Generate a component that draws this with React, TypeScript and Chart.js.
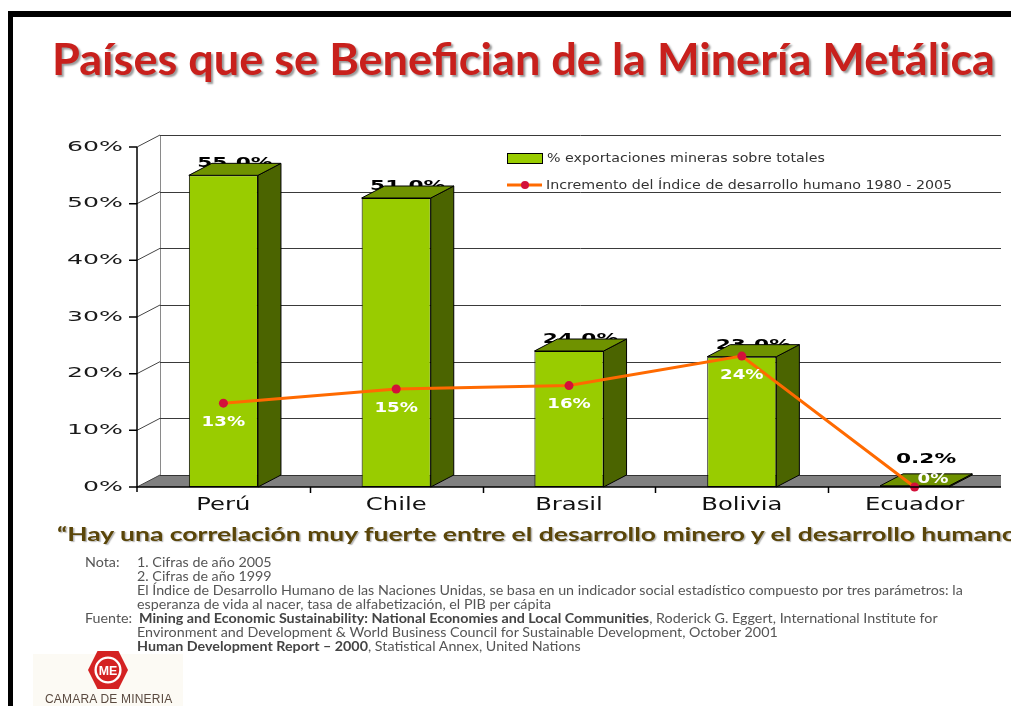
import React, { useEffect, useLayoutEffect, useRef } from "react";
import { Chart, registerables } from "chart.js";

Chart.register(...registerables);

// ---------- data ----------
const categories = ["Perú", "Chile", "Brasil", "Bolivia", "Ecuador"];
const miningExportShare = [55.0, 51.0, 24.0, 23.0, 0.2];
const miningExportLabels = ["55.0%", "51.0%", "24.0%", "23.0%", "0.2%"];
const hdiIncreasePlotted = [14.8, 17.3, 17.9, 23.1, 0.0];
const hdiIncreaseLabels = ["13%", "15%", "16%", "24%", "0%"];
const yTickValues = [0, 10, 20, 30, 40, 50, 60];
const yTickLabels = ["0%", "10%", "20%", "30%", "40%", "50%", "60%"];
const seriesNames = [
  "% exportaciones mineras sobre totales",
  "Incremento del Índice de desarrollo humano 1980 - 2005",
];

// ---------- style ----------
const DX = 23;
const DY = -12;
const BAR_FRONT = "#99cc00";
const BAR_TOP = "#6f9200";
const BAR_SIDE = "#4b6400";
const LINE_COLOR = "#ff6a00";
const POINT_COLOR = "#d3103a";
const FONT = "'DejaVu Sans', Verdana, sans-serif";

function stretchText(
  ctx: CanvasRenderingContext2D,
  text: string,
  x: number,
  y: number,
  sx: number,
  align: CanvasTextAlign
) {
  ctx.save();
  ctx.translate(x, y);
  ctx.scale(sx, 1);
  ctx.textAlign = align;
  ctx.fillText(text, 0, 0);
  ctx.restore();
}

const threeDPlugin = {
  id: "threeD",
  beforeDatasetsDraw(chart: any) {
    const { ctx, chartArea } = chart;
    const ys = chart.scales.y;
    const x0 = chartArea.left;
    const right = chartArea.right;
    const y0 = ys.getPixelForValue(0);
    ctx.save();
    // floor
    ctx.fillStyle = "#808080";
    ctx.beginPath();
    ctx.moveTo(x0, y0);
    ctx.lineTo(x0 + DX, y0 + DY);
    ctx.lineTo(right, y0 + DY);
    ctx.lineTo(right, y0);
    ctx.closePath();
    ctx.fill();
    // back wall left edge
    ctx.strokeStyle = "#8a8a8a";
    ctx.lineWidth = 1;
    ctx.beginPath();
    const bx = Math.round(x0 + DX) + 0.5;
    ctx.moveTo(bx, ys.getPixelForValue(60) + DY);
    ctx.lineTo(bx, y0 + DY);
    ctx.stroke();
    // gridlines on the back wall + diagonals on the side wall
    yTickValues.forEach((v) => {
      const fy = ys.getPixelForValue(v);
      const by = Math.round(fy + DY) + 0.5;
      ctx.strokeStyle = v === 0 ? "#333" : "#3a3a3a";
      ctx.lineWidth = 1;
      ctx.beginPath();
      ctx.moveTo(x0 + DX, by);
      ctx.lineTo(right, by);
      ctx.stroke();
      ctx.strokeStyle = "#444";
      ctx.beginPath();
      ctx.moveTo(x0, fy);
      ctx.lineTo(x0 + DX, fy + DY);
      ctx.stroke();
    });
    ctx.restore();
  },
  afterDatasetDraw(chart: any, args: any) {
    if (args.index !== 0) return;
    const { ctx } = chart;
    const meta = chart.getDatasetMeta(0);
    const ys = chart.scales.y;
    const y0 = ys.getPixelForValue(0);
    ctx.save();
    meta.data.forEach((bar: any, i: number) => {
      const left = bar.x - bar.width / 2;
      const rightB = bar.x + bar.width / 2;
      const top = bar.y;
      const base = bar.base;
      // value label (partly hidden by the top face)
      ctx.fillStyle = "#000";
      ctx.font = `bold 14px ${FONT}`;
      ctx.textBaseline = "alphabetic";
      const ly = Math.min(top + DY + 4, y0 + DY - 12);
      stretchText(ctx, miningExportLabels[i], bar.x + DX / 2, ly, 1.55, "center");
      ctx.strokeStyle = "#000";
      ctx.lineWidth = 1;
      // side face
      ctx.fillStyle = BAR_SIDE;
      ctx.beginPath();
      ctx.moveTo(rightB, top);
      ctx.lineTo(rightB + DX, top + DY);
      ctx.lineTo(rightB + DX, base + DY);
      ctx.lineTo(rightB, base);
      ctx.closePath();
      ctx.fill();
      ctx.stroke();
      // top face
      ctx.fillStyle = BAR_TOP;
      ctx.beginPath();
      ctx.moveTo(left, top);
      ctx.lineTo(left + DX, top + DY);
      ctx.lineTo(rightB + DX, top + DY);
      ctx.lineTo(rightB, top);
      ctx.closePath();
      ctx.fill();
      ctx.stroke();
    });
    ctx.restore();
  },
  afterDatasetsDraw(chart: any) {
    const { ctx, chartArea } = chart;
    const xs = chart.scales.x;
    const ys = chart.scales.y;
    const x0 = chartArea.left;
    const right = chartArea.right;
    const y0 = ys.getPixelForValue(0);
    const catW = (right - x0) / categories.length;
    ctx.save();
    // axes
    ctx.strokeStyle = "#000";
    ctx.lineWidth = 1.5;
    ctx.beginPath();
    ctx.moveTo(x0, ys.getPixelForValue(60));
    ctx.lineTo(x0, y0 + 5);
    ctx.moveTo(x0, y0);
    ctx.lineTo(right, y0);
    ctx.stroke();
    ctx.lineWidth = 1.5;
    ctx.beginPath();
    yTickValues.forEach((v) => {
      const fy = ys.getPixelForValue(v);
      ctx.moveTo(x0 - 8, fy);
      ctx.lineTo(x0, fy);
    });
    for (let i = 1; i < categories.length; i++) {
      const bxp = Math.round(x0 + catW * i) + 0.5;
      ctx.moveTo(bxp, y0);
      ctx.lineTo(bxp, y0 + 6);
    }
    ctx.stroke();
    // y tick labels
    ctx.fillStyle = "#1a1a1a";
    ctx.font = `14px ${FONT}`;
    ctx.textBaseline = "middle";
    yTickValues.forEach((v, i) => {
      stretchText(ctx, yTickLabels[i], x0 - 14, ys.getPixelForValue(v), 1.8, "right");
    });
    // category labels
    ctx.fillStyle = "#111";
    ctx.font = `18px ${FONT}`;
    ctx.textBaseline = "alphabetic";
    categories.forEach((c, i) => {
      stretchText(ctx, c, xs.getPixelForValue(i), y0 + 23, 1.35, "center");
    });
    // line labels
    const lineMeta = chart.getDatasetMeta(1);
    const barMeta = chart.getDatasetMeta(0);
    ctx.fillStyle = "#fff";
    ctx.font = `bold 14px ${FONT}`;
    ctx.textBaseline = "middle";
    lineMeta.data.forEach((pt: any, i: number) => {
      let lx = pt.x;
      let ly = pt.y + 19;
      if (ly + 7 > y0 + DY) {
        const bar = barMeta.data[i];
        lx = bar.x + DX * 0.8;
        ly = bar.y + DY / 2 - 1;
      }
      stretchText(ctx, hdiIncreaseLabels[i], lx, ly, 1.3, "center");
    });
    // legend
    ctx.font = `13px ${FONT}`;
    ctx.textBaseline = "middle";
    ctx.fillStyle = BAR_FRONT;
    ctx.fillRect(507, 153, 36, 11);
    ctx.strokeStyle = "#000";
    ctx.lineWidth = 1;
    ctx.strokeRect(507.5, 153.5, 35, 10);
    ctx.fillStyle = "#333";
    stretchText(ctx, seriesNames[0], 547, 158.5, 1.095, "left");
    ctx.strokeStyle = LINE_COLOR;
    ctx.lineWidth = 3;
    ctx.beginPath();
    ctx.moveTo(507, 185);
    ctx.lineTo(542, 185);
    ctx.stroke();
    ctx.fillStyle = POINT_COLOR;
    ctx.beginPath();
    ctx.arc(525, 185, 4, 0, Math.PI * 2);
    ctx.fill();
    ctx.fillStyle = "#333";
    stretchText(ctx, seriesNames[1], 546, 185.5, 1.095, "left");
    ctx.restore();
  },
};

function ChartCanvas() {
  const ref = useRef<HTMLCanvasElement | null>(null);
  useEffect(() => {
    if (!ref.current) return;
    const chart = new Chart(ref.current, {
      type: "bar",
      data: {
        labels: categories,
        datasets: [
          {
            type: "bar",
            label: seriesNames[0],
            data: miningExportShare,
            backgroundColor: BAR_FRONT,
            borderColor: "#000",
            borderWidth: 1,
            borderSkipped: false,
            barPercentage: 0.4,
            categoryPercentage: 1,
            order: 2,
          } as any,
          {
            type: "line",
            label: seriesNames[1],
            data: hdiIncreasePlotted,
            borderColor: LINE_COLOR,
            borderWidth: 3,
            pointRadius: 4.5,
            pointBackgroundColor: POINT_COLOR,
            pointBorderWidth: 0,
            tension: 0,
            clip: false,
            order: 1,
          } as any,
        ],
      },
      options: {
        responsive: false,
        animation: false,
        devicePixelRatio: 1,
        layout: { padding: { left: 137, right: 10, top: 147, bottom: 219 } },
        plugins: { legend: { display: false }, tooltip: { enabled: false } },
        scales: {
          x: { type: "category", display: false, offset: true },
          y: { type: "linear", display: false, min: 0, max: 60 },
        },
      },
      plugins: [threeDPlugin],
    });
    return () => chart.destroy();
  }, []);
  return (
    <canvas
      ref={ref}
      width={1011}
      height={706}
      style={{ position: "absolute", left: 0, top: 0, width: 1011, height: 706 }}
    />
  );
}

function FitText(props: {
  text: React.ReactNode;
  width: number;
  style: React.CSSProperties;
}) {
  const ref = useRef<HTMLSpanElement | null>(null);
  useLayoutEffect(() => {
    const fit = () => {
      const el = ref.current;
      if (!el) return;
      el.style.transform = "none";
      const w = el.getBoundingClientRect().width;
      if (w > 0) el.style.transform = `scaleX(${props.width / w})`;
    };
    fit();
    (document as any).fonts?.ready?.then(fit);
  }, [props.width]);
  return (
    <span
      ref={ref}
      style={{
        position: "absolute",
        whiteSpace: "nowrap",
        transformOrigin: "0 0",
        display: "inline-block",
        ...props.style,
      }}
    >
      {props.text}
    </span>
  );
}

const noteFont: React.CSSProperties = {
  position: "absolute",
  fontFamily: "Lato, 'Open Sans', sans-serif",
  fontSize: 13,
  lineHeight: "14px",
  color: "#555",
  whiteSpace: "nowrap",
  transform: "scaleX(1.1)",
  transformOrigin: "0 0",
};

export default function App() {
  return (
    <div
      style={{
        position: "fixed",
        left: 0,
        top: 0,
        width: 1011,
        height: 706,
        overflow: "hidden",
        background: "#fff",
      }}
    >
      <div style={{ position: "absolute", left: 8, top: 11, width: 1003, height: 6, background: "#000" }} />
      <div style={{ position: "absolute", left: 8, top: 11, width: 5, height: 695, background: "#000" }} />
      <ChartCanvas />
      <FitText
        text="Países que se Benefician de la Minería Metálica"
        width={943}
        style={{
          left: 52,
          top: 37,
          fontFamily: "Lato, 'Open Sans', sans-serif",
          fontWeight: 700,
          fontSize: 43,
          lineHeight: "43px",
          color: "#c8201c",
          textShadow: "2px 2px 2px rgba(0,0,0,0.4)",
        }}
      />
      <FitText
        text="“Hay una correlación muy fuerte entre el desarrollo minero y el desarrollo humano"
        width={960}
        style={{
          left: 57,
          top: 524,
          fontFamily: "Lato, 'Open Sans', sans-serif",
          fontWeight: 700,
          fontSize: 19,
          lineHeight: "19px",
          color: "#5a4508",
          textShadow: "1px 1px 1px rgba(0,0,0,0.3)",
        }}
      />
      <div style={{ ...noteFont, left: 85, top: 555 }}>Nota:</div>
      <div style={{ ...noteFont, left: 137, top: 555 }}>1. Cifras de año 2005</div>
      <div style={{ ...noteFont, left: 137, top: 569 }}>2. Cifras de año 1999</div>
      <div style={{ ...noteFont, left: 137, top: 583 }}>
        El Índice de Desarrollo Humano de las Naciones Unidas, se basa en un indicador social estadístico compuesto por tres parámetros: la
      </div>
      <div style={{ ...noteFont, left: 137, top: 597 }}>
        esperanza de vida al nacer, tasa de alfabetización, el PIB per cápita
      </div>
      <div style={{ ...noteFont, left: 85, top: 611 }}>Fuente:</div>
      <div style={{ ...noteFont, left: 139, top: 611 }}>
        <b style={{ color: "#444" }}>Mining and Economic Sustainability: National Economies and Local Communities</b>, Roderick G. Eggert, International Institute for
      </div>
      <div style={{ ...noteFont, left: 137, top: 625 }}>
        Environment and Development &amp; World Business Council for Sustainable Development, October 2001
      </div>
      <div style={{ ...noteFont, left: 137, top: 639 }}>
        <b style={{ color: "#444" }}>Human Development Report – 2000</b>, Statistical Annex, United Nations
      </div>
      <div style={{ position: "absolute", left: 33, top: 654, width: 150, height: 52, background: "#fcfaf4" }} />
      <svg
        style={{ position: "absolute", left: 87, top: 650 }}
        width={42}
        height={40}
        viewBox="0 0 44 42"
      >
        <polygon points="11,1 33,1 43,21 33,41 11,41 1,21" fill="#d42222" />
        <circle cx={22} cy={21} r={13} fill="none" stroke="#fff" strokeWidth={2.5} />
        <text
          x={22}
          y={26}
          textAnchor="middle"
          fontFamily="Liberation Sans, Arial, sans-serif"
          fontWeight={700}
          fontSize={13}
          fill="#fff"
        >
          ME
        </text>
      </svg>
      <div
        style={{
          position: "absolute",
          left: 45,
          top: 692,
          fontFamily: "'Liberation Sans', Arial, sans-serif",
          fontSize: 12,
          letterSpacing: 0.2,
          color: "#5a4a40",
          whiteSpace: "nowrap",
        }}
      >
        CAMARA DE MINERIA
      </div>
    </div>
  );
}
